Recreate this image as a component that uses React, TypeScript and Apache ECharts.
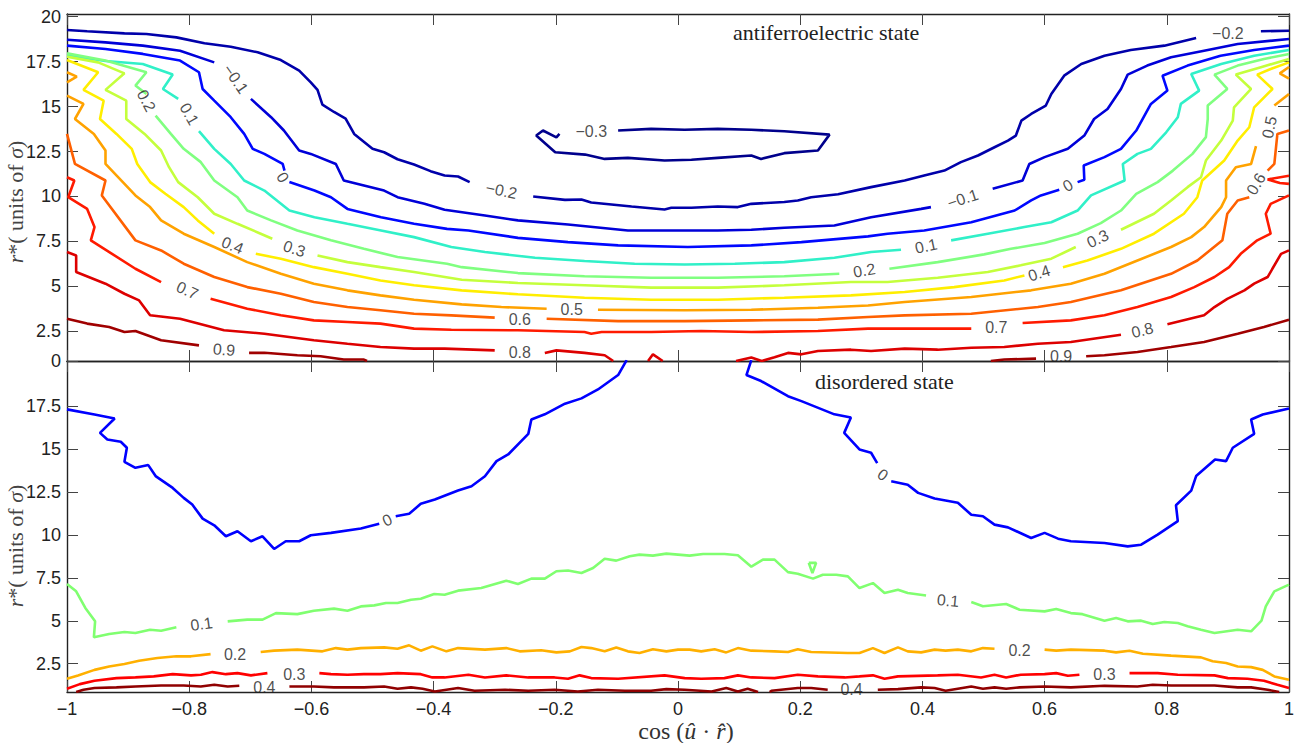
import React, { useEffect, useRef } from "react";
import * as echarts from "echarts";

// ---------------- axis ticks ----------------
const yTicksTop = [0.85, 2.5, 5, 7.5, 10, 12.5, 15, 17.5, 20];
const yTicksBottom = [2.5, 5, 7.5, 10, 12.5, 15, 17.5];
const Y_MIN = 0.85;
const Y_MAX = 20.15;

// ---------------- top panel (antiferroelectric) contour levels ----------------
const T_M03 = [
  [[-0.098,13.67],[-0.044,13.76],[0.011,13.71],[0.065,13.76],[0.12,13.71],[0.174,13.63],[0.248,13.44],[0.229,12.56],[0.174,12.41],[0.136,12.09],[0.12,12.28],[0.065,12.15],[0.022,12.04],[-0.022,12.0],[-0.082,12.15],[-0.12,12.09],[-0.152,12.33],[-0.201,12.46],[-0.232,13.39],[-0.221,13.67],[-0.199,13.29],[-0.194,13.48]],
];
const T_M02 = [
  [[-1,19.26],[-0.967,19.19],[-0.906,19.07],[-0.87,19.04],[-0.821,18.85],[-0.775,18.52],[-0.732,18.33],[-0.688,18.02],[-0.65,17.59],[-0.62,17.0],[-0.601,16.35],[-0.59,15.93],[-0.582,15.11],[-0.563,14.7],[-0.544,14.33],[-0.53,13.48],[-0.5,12.65],[-0.481,12.46],[-0.459,12.07],[-0.432,11.78],[-0.405,11.41],[-0.382,11.17],[-0.36,11.11],[-0.341,10.8]],
  [[-0.237,10.0],[-0.185,9.81],[-0.158,9.83],[-0.142,9.67],[-0.076,9.44],[-0.022,9.28],[-0.011,9.37],[0.022,9.37],[0.065,9.44],[0.098,9.41],[0.12,9.59],[0.174,9.69],[0.196,9.78],[0.218,9.96],[0.262,10.12],[0.316,10.52],[0.371,10.89],[0.403,11.17],[0.436,11.44],[0.463,11.91],[0.491,12.28],[0.518,12.74],[0.54,13.11],[0.553,13.39],[0.562,14.22],[0.578,14.59],[0.602,15.06],[0.611,15.7],[0.632,16.72],[0.66,17.37],[0.698,17.83],[0.741,18.15],[0.796,18.39],[0.848,18.81]],
  [[0.954,19.19],[1,19.22]],
];
const T_M01 = [
  [[-1,18.72],[-0.937,18.57],[-0.876,18.39],[-0.815,18.11],[-0.759,17.46]],
  [[-0.699,15.43],[-0.666,14.41],[-0.645,13.67],[-0.62,12.56],[-0.601,12.37],[-0.56,11.81],[-0.547,10.89],[-0.514,10.61],[-0.481,10.33],[-0.459,9.96],[-0.415,9.59],[-0.382,9.26],[-0.316,8.94],[-0.262,8.67],[-0.18,8.44],[-0.082,8.11],[0.011,8.11],[0.065,8.11],[0.12,8.15],[0.174,8.26],[0.256,8.39],[0.316,8.85],[0.398,9.31],[0.414,9.41]],
  [[0.515,10.43],[0.564,10.89],[0.575,11.81],[0.6,12.19],[0.638,12.65],[0.665,13.39],[0.681,14.31],[0.703,14.87],[0.725,15.98],[0.736,16.78],[0.768,17.28],[0.807,17.74],[0.861,18.11],[0.916,18.48],[1,18.76]],
];
const T_00 = [
  [[-1,18.39],[-0.937,18.2],[-0.876,17.93],[-0.815,17.56],[-0.784,16.91],[-0.778,15.98],[-0.759,15.33],[-0.732,14.41],[-0.71,13.48],[-0.696,12.65],[-0.677,12.37],[-0.647,11.81],[-0.644,11.44]],
  [[-0.636,10.8],[-0.595,10.33],[-0.568,9.96],[-0.541,9.31],[-0.486,8.85],[-0.432,8.48],[-0.378,8.2],[-0.343,8.11],[-0.262,7.7],[-0.18,7.46],[-0.098,7.28],[0.016,7.19],[0.12,7.28],[0.202,7.46],[0.311,7.78],[0.343,7.93],[0.403,8.11],[0.48,8.57],[0.551,9.22],[0.578,9.78],[0.594,10.06],[0.624,10.37]],
  [[0.654,10.8],[0.665,10.93],[0.664,11.72],[0.698,12.19],[0.725,12.65],[0.75,13.67],[0.774,15.15],[0.801,15.89],[0.793,16.72],[0.834,17.28],[0.888,17.83],[0.943,18.15],[1,18.39]],
];
const T_01 = [
  [[-1,17.85],[-0.937,17.54],[-0.876,17.37],[-0.827,16.78],[-0.843,15.98],[-0.818,15.43]],
  [[-0.784,13.63],[-0.759,12.65],[-0.732,11.81],[-0.71,10.89],[-0.677,10.33],[-0.636,9.22],[-0.595,8.85],[-0.541,8.48],[-0.486,8.11],[-0.432,7.74],[-0.371,7.19],[-0.316,6.91],[-0.234,6.59],[-0.153,6.41],[-0.071,6.26],[0.011,6.22],[0.093,6.26],[0.174,6.35],[0.256,6.59],[0.316,6.91],[0.365,7.04]],
  [[0.447,7.56],[0.507,7.93],[0.567,8.3],[0.611,8.57],[0.654,9.22],[0.676,10.06],[0.731,10.89],[0.728,11.81],[0.752,12.37],[0.774,12.65],[0.799,13.57],[0.818,14.41],[0.823,15.15],[0.853,15.89],[0.84,16.81],[0.889,17.37],[0.943,17.83],[1,18.15]],
];
const T_02 = [
  [[-1,17.96],[-0.937,17.56],[-0.87,16.91],[-0.888,16.17],[-0.87,15.7]],
  [[-0.855,14.5],[-0.83,13.48],[-0.809,12.65],[-0.781,11.91],[-0.759,10.89],[-0.721,9.96],[-0.705,9.22],[-0.666,8.67],[-0.623,8.11],[-0.568,7.56],[-0.514,7.09],[-0.459,6.63],[-0.378,6.26],[-0.354,6.07],[-0.262,5.74],[-0.153,5.56],[-0.044,5.48],[0.065,5.48],[0.174,5.56],[0.264,5.7]],
  [[0.346,5.98],[0.425,6.35],[0.501,6.78],[0.545,7.09],[0.6,7.41],[0.654,7.93],[0.692,8.52],[0.725,9.22],[0.75,10.15],[0.785,10.8],[0.81,11.44],[0.842,12.37],[0.864,13.3],[0.867,14.31],[0.867,15.06],[0.899,15.98],[0.878,16.78],[0.916,17.28],[0.959,17.65],[1,17.93]],
];
const T_03 = [
  [[-1,17.78],[-0.949,17.46],[-0.906,16.85],[-0.937,15.93],[-0.903,15.33],[-0.903,14.31],[-0.873,13.48],[-0.846,12.56],[-0.833,11.63],[-0.818,10.8],[-0.786,9.96],[-0.759,9.04],[-0.721,8.48],[-0.683,7.93],[-0.664,7.65]],
  [[-0.59,6.72],[-0.541,6.35],[-0.487,6.07],[-0.432,5.8],[-0.354,5.37],[-0.262,5.19],[-0.153,5.06],[-0.044,4.93],[0.065,4.93],[0.174,5.06],[0.283,5.24],[0.343,5.24],[0.425,5.48],[0.507,5.8],[0.561,6.17],[0.611,6.54],[0.651,7.19]],
  [[0.725,8.15],[0.779,9.04],[0.807,9.78],[0.834,10.52],[0.856,11.07],[0.864,12.0],[0.889,13.11],[0.908,14.22],[0.91,14.96],[0.938,15.98],[0.913,16.78],[0.954,17.19],[1,17.65]],
];
const T_04 = [
  [[-1,17.59],[-0.949,16.91],[-0.973,15.93],[-0.94,15.33],[-0.946,14.31],[-0.919,13.48],[-0.894,12.65],[-0.885,11.81],[-0.864,10.8],[-0.839,10.15],[-0.809,9.41],[-0.786,8.67],[-0.759,7.93]],
  [[-0.691,6.81],[-0.65,6.54],[-0.596,6.07],[-0.541,5.7],[-0.487,5.33],[-0.432,5.06],[-0.354,4.78],[-0.262,4.56],[-0.153,4.37],[-0.044,4.26],[0.065,4.26],[0.174,4.37],[0.283,4.5],[0.371,4.69],[0.452,4.96],[0.534,5.33],[0.567,5.61]],
  [[0.63,6.07],[0.67,6.44],[0.725,7.09],[0.779,7.93],[0.828,9.04],[0.85,9.96],[0.858,10.89],[0.894,12.0],[0.916,13.11],[0.935,13.85],[0.943,14.96],[0.973,15.98],[0.948,16.78],[0.97,17.09],[1,17.46]],
];
const T_05 = [
  [[-1,16.91],[-0.984,16.67],[-1,16.35]],
  [[-1,15.61],[-0.973,15.15],[-0.987,14.31],[-0.956,13.48],[-0.937,12.56],[-0.937,11.81],[-0.888,10.06],[-0.864,9.41],[-0.846,8.67],[-0.809,7.93],[-0.759,7.19],[-0.705,6.35],[-0.65,5.7],[-0.596,5.15],[-0.541,4.78],[-0.487,4.5],[-0.432,4.26],[-0.354,4.0],[-0.289,3.85],[-0.215,3.76]],
  [[-0.131,3.7],[0.011,3.67],[0.12,3.7],[0.229,3.81],[0.311,3.94],[0.371,4.13],[0.48,4.41],[0.578,4.78],[0.643,5.15],[0.698,5.7],[0.752,6.44],[0.807,7.19],[0.84,7.74],[0.861,8.3],[0.889,9.41],[0.897,9.96],[0.897,10.89],[0.913,11.63],[0.938,11.81],[0.946,12.8]],
  [[0.976,15.06],[1,15.7]],
  [[1,17.2],[0.985,16.85],[1,16.55]],
];
const T_06 = [
  [[-1,13.48],[-0.987,11.81],[-0.937,10.89],[-0.943,10.06],[-0.888,7.56],[-0.846,7.0],[-0.809,6.26],[-0.759,5.52],[-0.705,4.96],[-0.65,4.59],[-0.596,4.13],[-0.541,3.85],[-0.487,3.67],[-0.432,3.48],[-0.371,3.39],[-0.3,3.26]],
  [[-0.215,3.2],[-0.098,3.07],[0.011,3.07],[0.12,3.11],[0.229,3.15],[0.311,3.3],[0.371,3.39],[0.48,3.48],[0.589,3.85],[0.643,4.13],[0.725,4.78],[0.807,5.7],[0.85,6.44],[0.891,7.56],[0.899,9.04],[0.916,9.78],[0.935,9.96]],
  [[0.965,11.44],[0.976,11.81],[0.981,13.48],[1,13.67]],
];
const T_07 = [
  [[-1,11.07],[-0.988,10.89],[-0.998,9.96],[-0.967,9.31],[-0.955,8.3],[-0.961,7.56],[-0.888,5.98],[-0.846,5.24]],
  [[-0.765,4.31],[-0.705,3.76],[-0.65,3.39],[-0.596,3.11],[-0.541,3.02],[-0.487,2.93],[-0.432,2.65],[-0.371,2.59],[-0.262,2.56],[-0.153,2.46],[-0.142,2.37],[-0.125,2.46],[-0.044,2.46],[0.038,2.52],[0.12,2.46],[0.229,2.52],[0.311,2.65],[0.371,2.65],[0.48,2.65]],
  [[0.564,2.96],[0.643,3.11],[0.698,3.39],[0.752,3.85],[0.807,4.41],[0.845,4.96],[0.878,5.52],[0.902,6.07],[0.921,6.81],[0.948,7.56],[0.97,7.93],[0.962,9.04],[0.97,9.59],[1,10.06]],
  [[1,11.15],[0.965,10.95],[0.985,10.75],[1,10.7]],
];
const T_08 = [
  [[-1,6.91],[-0.985,6.72],[-0.985,5.8],[-0.937,5.15],[-0.906,4.59],[-0.882,4.22],[-0.864,3.39],[-0.815,3.2],[-0.743,2.56],[-0.677,2.37],[-0.596,2.0],[-0.541,1.81],[-0.487,1.63],[-0.432,1.54],[-0.382,1.54],[-0.3,1.44]],
  [[-0.218,1.3],[-0.199,1.44],[-0.153,1.3],[-0.12,1.17],[-0.106,0.85]],
  [[-0.049,0.85],[-0.041,1.22],[-0.025,0.85]],
  [[0.095,0.85],[0.12,1.04],[0.137,0.85],[0.158,1.06],[0.18,1.3],[0.202,1.22],[0.229,1.41],[0.283,1.48],[0.316,1.41],[0.371,1.54],[0.425,1.48],[0.48,1.59],[0.534,1.63],[0.589,1.81],[0.643,1.91],[0.725,2.31]],
  [[0.801,2.89],[0.861,3.39],[0.878,3.85],[0.899,4.31],[0.927,4.78],[0.943,5.15],[0.965,5.52],[0.987,6.81],[1,7.0]],
];
const T_09 = [
  [[-1,3.2],[-0.967,2.93],[-0.931,2.74],[-0.906,2.46],[-0.888,2.52],[-0.846,2.0],[-0.784,1.72]],
  [[-0.702,1.3],[-0.677,1.31],[-0.623,1.17],[-0.585,1.11],[-0.547,0.93],[-0.514,0.93],[-0.509,0.85]],
  [[0.512,0.85],[0.534,0.93],[0.586,0.98]],
  [[0.668,1.11],[0.698,1.17],[0.752,1.35],[0.807,1.63],[0.861,1.91],[0.916,2.37],[0.959,2.74],[1,3.15]],
];
const topLevels = [T_M03, T_M02, T_M01, T_00, T_01, T_02, T_03, T_04, T_05, T_06, T_07, T_08, T_09];
const topColors = ["#00008c", "#0000aa", "#0000d8", "#0008ff", "#30f0c8", "#80ff80", "#c4ff3c", "#ffee00", "#ffa200", "#ff6000", "#ff1a00", "#dd0000", "#a00000"];

// [x, y, text, rotation]
const topLabels = [
  [-0.142, 13.6, "\u22120.3", 0],
  [-0.289, 10.33, "\u22120.2", -12],
  [0.9, 19.04, "\u22120.2", 0],
  [-0.724, 16.54, "\u22120.1", -55],
  [0.466, 9.87, "\u22120.1", 18],
  [-0.647, 11.07, "0", -60],
  [0.638, 10.61, "0", 30],
  [-0.8, 14.59, "0.1", -60],
  [0.406, 7.24, "0.1", 12],
  [-0.87, 15.33, "0.2", -62],
  [0.305, 5.89, "0.2", 10],
  [-0.628, 7.09, "0.3", -18],
  [0.687, 7.65, "0.3", 25],
  [-0.729, 7.28, "0.4", -22],
  [0.591, 5.74, "0.4", 18],
  [-0.174, 3.72, "0.5", 0],
  [0.968, 13.85, "0.5", 78],
  [-0.259, 3.17, "0.6", 0],
  [0.946, 10.7, "0.6", 60],
  [-0.803, 4.78, "0.7", -25],
  [0.521, 2.74, "0.7", 0],
  [-0.259, 1.31, "0.8", 0],
  [0.76, 2.56, "0.8", 14],
  [-0.743, 1.48, "0.9", -5],
  [0.627, 1.11, "0.9", 0],
];

// ---------------- bottom panel (disordered) contour levels ----------------
const B_00 = [
  [[-1,17.33],[-0.955,17.03],[-0.922,16.8],[-0.946,15.96],[-0.934,15.57],[-0.912,15.44],[-0.902,15.09],[-0.906,14.27],[-0.888,13.92],[-0.867,14.08],[-0.855,13.44],[-0.827,12.75],[-0.809,12.17],[-0.795,11.78],[-0.778,10.96],[-0.759,10.57],[-0.74,9.93],[-0.721,10.22],[-0.699,9.64],[-0.68,9.93],[-0.661,9.19],[-0.642,9.64],[-0.62,9.64],[-0.601,9.99],[-0.568,10.13],[-0.519,10.38],[-0.489,10.66]],
  [[-0.462,11.1],[-0.44,11.24],[-0.421,11.82],[-0.398,12.07],[-0.36,12.6],[-0.338,12.85],[-0.316,13.43],[-0.297,14.31],[-0.278,14.7],[-0.245,15.9],[-0.24,16.74],[-0.218,17.04],[-0.185,17.66],[-0.158,17.97],[-0.131,18.49],[-0.098,19.33],[-0.084,20.2]],
  [[0.12,20.2],[0.112,19.33],[0.136,18.98],[0.18,18.1],[0.202,17.81],[0.256,17.04],[0.283,16.86],[0.272,15.96],[0.297,14.99],[0.316,14.8],[0.326,14.2]],
  [[0.349,13.14],[0.376,12.94],[0.393,12.46],[0.42,12.13],[0.458,11.88],[0.48,11.19],[0.499,11.1],[0.518,10.61],[0.54,10.45],[0.578,9.83],[0.6,10.13],[0.622,9.79],[0.643,9.64],[0.698,9.54],[0.736,9.34],[0.758,9.44],[0.785,10.03],[0.818,10.81],[0.815,11.74],[0.84,12.59],[0.848,13.44],[0.879,14.41],[0.897,14.31],[0.908,15.09],[0.943,15.9],[0.938,16.74],[0.957,17.03],[1,17.38]],
];
const B_01 = [
  [[-1,7.15],[-0.985,6.72],[-0.97,5.75],[-0.954,4.97],[-0.956,4.04],[-0.931,4.23],[-0.906,4.35],[-0.888,4.29],[-0.864,4.48],[-0.846,4.42],[-0.821,4.62]],
  [[-0.737,4.97],[-0.705,5.07],[-0.68,5.07],[-0.658,5.45],[-0.623,5.39],[-0.596,5.59],[-0.563,5.71],[-0.541,5.59],[-0.519,5.84],[-0.497,5.9],[-0.478,6.04],[-0.459,6.04],[-0.437,6.23],[-0.421,6.29],[-0.399,6.56],[-0.382,6.52],[-0.36,6.76],[-0.322,6.91],[-0.281,7.34],[-0.262,7.15],[-0.24,7.46],[-0.218,7.46],[-0.199,7.89],[-0.18,7.93],[-0.158,7.79],[-0.139,8.08],[-0.12,8.62],[-0.101,8.51],[-0.079,8.76],[-0.063,8.86],[-0.041,8.8],[-0.019,8.92],[0.019,8.8],[0.041,8.9],[0.076,8.9],[0.098,8.82],[0.12,8.16],[0.139,8.57],[0.158,8.57],[0.18,7.84],[0.196,7.75],[0.221,7.46],[0.237,7.69],[0.259,7.69],[0.278,7.59],[0.297,6.91],[0.319,7.2],[0.338,6.62],[0.36,6.81],[0.376,6.62],[0.406,6.48]],
  [[0.48,6.1],[0.499,5.85],[0.537,5.98],[0.559,5.65],[0.6,5.55],[0.619,5.69],[0.643,5.45],[0.662,5.39],[0.698,5.01],[0.717,5.16],[0.736,4.97],[0.758,5.01],[0.777,4.81],[0.796,4.93],[0.818,4.87],[0.834,4.68],[0.856,4.48],[0.878,4.29],[0.916,4.48],[0.938,4.39],[0.955,5.01],[0.962,5.84],[0.976,6.72],[1,7.11]],
  [[0.214,8.38],[0.226,8.38],[0.22,7.79],[0.214,8.38]],
];
const B_02 = [
  [[-1,1.62],[-0.982,1.81],[-0.955,2.14],[-0.931,2.34],[-0.906,2.48],[-0.882,2.67],[-0.852,2.83],[-0.821,2.93],[-0.797,2.93],[-0.765,3.06]],
  [[-0.683,3.18],[-0.661,3.26],[-0.623,3.32],[-0.582,3.22],[-0.56,3.41],[-0.541,3.32],[-0.519,3.41],[-0.481,3.45],[-0.459,3.37],[-0.44,3.57],[-0.421,3.26],[-0.402,3.51],[-0.379,3.22],[-0.36,3.41],[-0.316,3.32],[-0.281,3.41],[-0.259,3.22],[-0.224,3.28],[-0.199,3.16],[-0.177,3.22],[-0.158,3.47],[-0.142,3.41],[-0.12,3.22],[-0.101,3.45],[-0.082,3.22],[-0.063,3.12],[-0.041,3.34],[-0.019,3.22],[0,3.32],[0.019,3.32],[0.038,3.22],[0.06,3.34],[0.079,3.16],[0.098,3.41],[0.12,3.26],[0.158,3.22],[0.18,3.18],[0.196,3.34],[0.218,3.18],[0.278,3.12],[0.297,3.12],[0.319,3.41],[0.338,3.12],[0.36,3.45],[0.376,3.22],[0.398,3.16],[0.42,3.32],[0.438,3.26],[0.458,3.32],[0.48,3.22],[0.499,3.41],[0.518,3.37]],
  [[0.6,3.32],[0.619,3.26],[0.643,3.32],[0.698,3.26],[0.717,3.16],[0.739,3.26],[0.761,3.08],[0.807,2.97],[0.856,2.87],[0.875,2.64],[0.897,2.54],[0.916,2.34],[0.938,2.3],[0.957,2.14],[0.976,1.76],[1,1.56]],
];
const B_03 = [
  [[-1,1.04],[-0.979,1.31],[-0.955,1.51],[-0.919,1.66],[-0.888,1.7],[-0.858,1.76],[-0.827,1.89],[-0.797,1.82],[-0.781,1.86],[-0.762,2.01],[-0.74,1.89],[-0.721,1.95],[-0.699,1.82],[-0.672,1.95]],
  [[-0.587,1.95],[-0.568,1.89],[-0.541,1.86],[-0.514,1.89],[-0.487,1.89],[-0.459,1.95],[-0.421,1.89],[-0.402,1.7],[-0.382,1.7],[-0.343,1.86],[-0.316,1.7],[-0.281,1.82],[-0.245,1.7],[-0.202,1.7],[-0.18,1.62],[-0.161,1.82],[-0.142,1.66],[-0.098,1.62],[-0.022,1.82],[0.011,1.66],[0.038,1.62],[0.076,1.66],[0.098,1.82],[0.12,1.7],[0.158,1.66],[0.196,1.86],[0.229,1.76],[0.273,1.7],[0.297,1.76],[0.319,1.82],[0.338,1.62],[0.36,1.76],[0.425,1.82],[0.458,1.86],[0.496,1.7],[0.518,1.86],[0.537,1.7],[0.561,1.86],[0.6,1.89],[0.619,1.95],[0.638,1.8],[0.657,1.86]],
  [[0.739,1.95],[0.785,1.95],[0.818,1.86],[0.878,1.82],[0.9,1.66],[0.932,1.62],[0.959,1.51],[0.981,1.27],[1,1.08]],
];
const B_04 = [
  [[-0.985,0.85],[-0.973,0.98],[-0.955,1.08],[-0.919,1.12],[-0.888,1.17],[-0.846,1.23],[-0.809,1.23],[-0.781,1.17],[-0.759,1.27],[-0.737,1.17],[-0.718,1.21]],
  [[-0.636,1.17],[-0.596,1.17],[-0.563,1.12],[-0.514,1.12],[-0.481,1.17],[-0.459,1.04],[-0.437,1.12],[-0.418,1.04],[-0.398,0.88],[-0.36,1.08],[-0.333,0.92],[-0.283,0.98],[-0.245,0.92],[-0.202,0.98],[-0.164,0.88],[-0.131,0.98],[-0.087,0.92],[-0.044,0.92],[-0.019,1.02],[0.011,0.98],[0.055,0.88],[0.079,1.08],[0.098,0.88],[0.114,1.04],[0.131,0.85]],
  [[0.15,0.85],[0.153,0.92],[0.196,1.08],[0.218,1.08],[0.245,0.98]],
  [[0.327,0.98],[0.36,1.02],[0.398,1.12],[0.42,1.08],[0.438,0.92],[0.458,1.04],[0.48,1.17],[0.499,1.04],[0.518,1.12],[0.537,1.04],[0.559,1.12],[0.6,1.17],[0.643,1.12],[0.698,1.21],[0.752,1.17],[0.777,1.27],[0.807,1.23],[0.878,1.23],[0.916,1.12],[0.938,1.12],[0.965,0.98],[0.984,0.85]],
];
const bottomLevels = [B_00, B_01, B_02, B_03, B_04];
const bottomColors = ["#0000ff", "#80ff70", "#ffb000", "#ff0000", "#900000"];

const bottomLabels = [
  [-0.476, 10.87, "0", 25],
  [0.335, 13.52, "0", -35],
  [-0.78, 4.81, "0.1", 8],
  [0.442, 6.18, "0.1", -5],
  [-0.725, 3.06, "0.2", 0],
  [0.559, 3.26, "0.2", 0],
  [-0.628, 1.89, "0.3", 0],
  [0.698, 1.89, "0.3", 0],
  [-0.677, 1.14, "0.4", 0],
  [0.284, 1.01, "0.4", 0],
];

const SANS = "'Liberation Sans', Arial, sans-serif";
const SERIF = "'Liberation Serif', 'Times New Roman', serif";

function fmtX(v: number) {
  const r = Math.round(v * 10) / 10;
  if (r === 0) return "0";
  return (r < 0 ? "\u2212" : "") + String(Math.abs(r));
}
function fmtY(v: number) {
  return v < 1 ? "0" : String(v);
}

function makeLines(levels: number[][][][], colors: string[], axis: number) {
  const out: any[] = [];
  levels.forEach((segs, i) => {
    segs.forEach((seg) => {
      out.push({
        type: "line",
        xAxisIndex: axis,
        yAxisIndex: axis,
        data: seg,
        showSymbol: false,
        symbol: "none",
        silent: true,
        clip: true,
        lineStyle: { color: colors[i], width: 2.6 },
        itemStyle: { color: colors[i] },
        z: 2,
      });
    });
  });
  return out;
}

function makeLabels(labels: any[], axis: number) {
  return {
    type: "scatter",
    xAxisIndex: axis,
    yAxisIndex: axis,
    symbolSize: 1,
    silent: true,
    itemStyle: { color: "rgba(0,0,0,0)" },
    z: 5,
    label: {
      show: true,
      position: "inside",
      formatter: (p: any) => p.name,
      fontFamily: SANS,
      fontSize: 16,
      color: "#1e1e1e",
    },
    data: labels.map((l) => ({ name: l[2], value: [l[0], l[1]], label: { rotate: l[3] } })),
  };
}

const axisLineStyle = { color: "#222", width: 1.4 };
const tickStyle = { color: "#444", width: 1 };

function xAx(grid: number, position: string, labels: boolean) {
  return {
    type: "value",
    gridIndex: grid,
    position,
    min: -1,
    max: 1,
    interval: 0.2,
    splitLine: { show: false },
    axisLine: { show: true, onZero: false, lineStyle: axisLineStyle },
    axisTick: { show: true, inside: true, length: 11, lineStyle: tickStyle },
    axisLabel: labels
      ? { show: true, margin: 8, formatter: fmtX, fontFamily: SANS, fontSize: 18, color: "#222" }
      : { show: false },
  };
}

function yAx(grid: number, position: string, labels: boolean, ticks: number[]) {
  return {
    type: "value",
    gridIndex: grid,
    position,
    min: Y_MIN,
    max: Y_MAX,
    splitLine: { show: false },
    axisLine: { show: true, onZero: false, lineStyle: axisLineStyle },
    axisTick: { show: true, inside: true, length: 11, lineStyle: tickStyle, customValues: ticks },
    axisLabel: labels
      ? { show: true, margin: 6, customValues: ticks, formatter: fmtY, fontFamily: SANS, fontSize: 18, color: "#222" }
      : { show: false },
  };
}

const yTitleRich = {
  n: { fontFamily: SERIF, fontSize: 22, fill: "#444" },
  i: { fontFamily: SERIF, fontSize: 22, fontStyle: "italic", fill: "#444" },
};

export default function App() {
  const ref = useRef<HTMLDivElement>(null);
  useEffect(() => {
    if (!ref.current) return;
    const chart = echarts.init(ref.current, undefined, { renderer: "svg" });
    const option: any = {
      animation: false,
      backgroundColor: "#ffffff",
      grid: [
        { left: 67, right: 5, top: 14, height: 347, outerBoundsMode: "none", containLabel: false },
        { left: 67, right: 5, top: 361, height: 331, outerBoundsMode: "none", containLabel: false },
      ],
      xAxis: [xAx(0, "bottom", false), xAx(0, "top", false), xAx(1, "bottom", true), xAx(1, "top", false)],
      yAxis: [
        yAx(0, "left", true, yTicksTop),
        yAx(0, "right", false, yTicksTop),
        yAx(1, "left", true, yTicksBottom),
        yAx(1, "right", false, yTicksBottom),
      ],
      series: [
        ...makeLines(topLevels, topColors, 0),
        ...makeLines(bottomLevels, bottomColors, 2),
        makeLabels(topLabels, 0),
        makeLabels(bottomLabels, 2),
      ],
      graphic: [
        {
          type: "text",
          left: 733,
          top: 21,
          style: { text: "antiferroelectric state", font: `22px ${SERIF}`, fill: "#222" },
        },
        {
          type: "text",
          left: 815,
          top: 370,
          style: { text: "disordered state", font: `22px ${SERIF}`, fill: "#222" },
        },
        {
          type: "text",
          x: 686,
          y: 731,
          style: {
            text: "{n|cos (}{i|\u00fb}{n| \u00b7 }{i|r\u0302}{n|)}",
            align: "center",
            verticalAlign: "middle",
            rich: {
              n: { fontFamily: SERIF, fontSize: 24, fill: "#333" },
              i: { fontFamily: SERIF, fontSize: 24, fontStyle: "italic", fill: "#333" },
            },
          },
        },
        {
          type: "text",
          x: 15,
          y: 202,
          rotation: Math.PI / 2,
          style: {
            text: "{i|r}{n|*( units of }{i|\u03c3}{n|)}",
            align: "center",
            verticalAlign: "middle",
            rich: yTitleRich,
          },
        },
        {
          type: "text",
          x: 15,
          y: 546,
          rotation: Math.PI / 2,
          style: {
            text: "{i|r}{n|*( units of }{i|\u03c3}{n|)}",
            align: "center",
            verticalAlign: "middle",
            rich: yTitleRich,
          },
        },
      ],
    };
    chart.setOption(option);
    return () => chart.dispose();
  }, []);
  return (
    <div
      ref={ref}
      style={{ position: "absolute", left: 0, top: 0, width: 1294, height: 743, background: "#fff" }}
    />
  );
}
